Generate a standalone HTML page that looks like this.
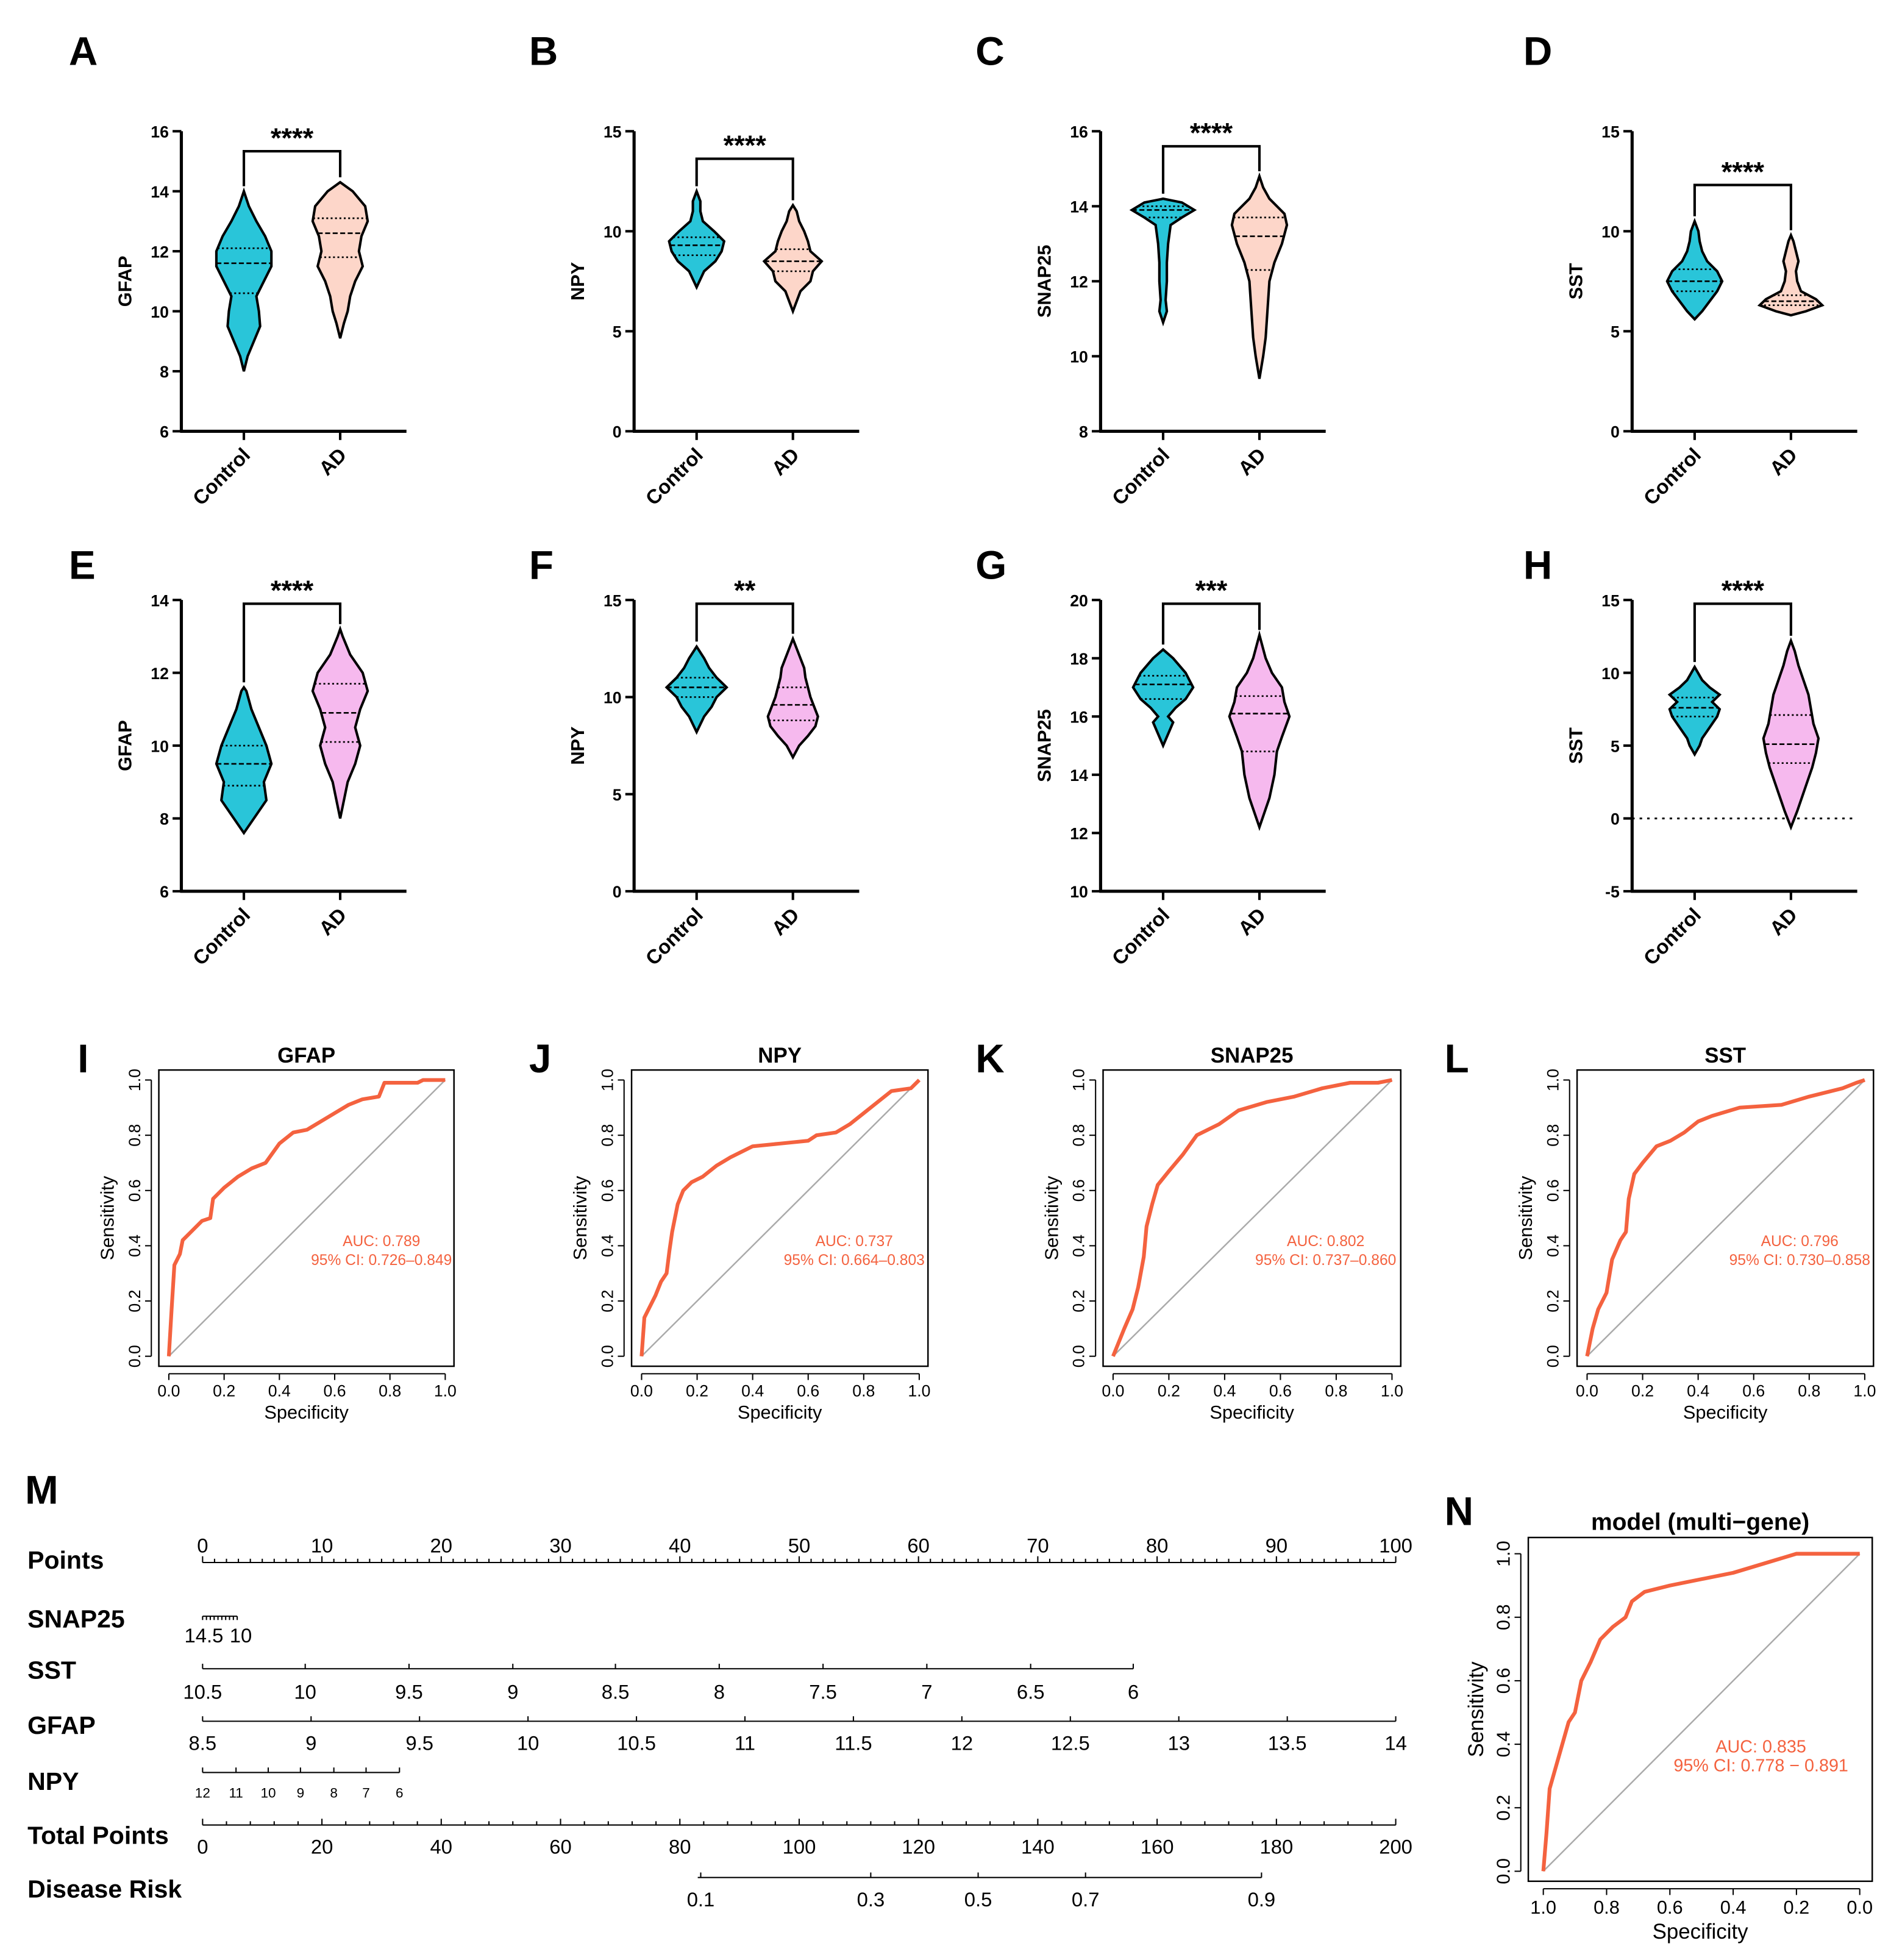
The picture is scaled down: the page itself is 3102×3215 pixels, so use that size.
<!DOCTYPE html>
<html><head><meta charset="utf-8"><style>
html,body{margin:0;padding:0;background:#fff}
svg{display:block;font-family:"Liberation Sans",Arial,sans-serif}
</style></head><body>
<svg id="fig" width="3102" height="3215" viewBox="0 0 1512 1568" preserveAspectRatio="none" xmlns="http://www.w3.org/2000/svg"></svg>
<script>
// ---------- Violin data (value, halfwidth profile) ----------
const violinPanels = ['A','B','C','D','E','F','G','H'];
const violinGenes = ['GFAP','NPY','SNAP25','SST','GFAP','NPY','SNAP25','SST'];
const violinYMin = [6,0,8,0,6,0,10,-5];
const violinYMax = [16,15,16,15,14,15,20,15];
const violinYStep = [2,5,2,5,2,5,2,5];
const violinStars = ['****','****','****','****','****','**','***','****'];
const ctrlProfiles = [
 [[8,0],[8.5,3],[9,8],[9.5,13],[10,12],[10.5,10],[11,16],[11.5,22],[12,22],[12.5,17],[13,10],[13.5,4],[14,0]],
 [[7.2,0],[8,6],[8.5,15],[9,20],[9.5,22],[10,14],[10.5,5],[11,3],[11.5,3],[12,0]],
 [[10.9,0],[11.2,3],[11.5,2],[12,3],[12.5,3],[13,4],[13.5,6],[13.7,15],[13.9,25],[14.1,15],[14.2,0]],
 [[5.6,0],[6,6],[6.5,12],[7,18],[7.5,22],[8,18],[8.5,10],[9,6],[9.5,4],[10,3],[10.5,0]],
 [[7.6,0],[8,8],[8.5,18],[9,16],[9.5,22],[10,18],[10.5,12],[11,6],[11.5,2],[11.6,0]],
 [[8.2,0],[9,6],[9.5,12],[10,16],[10.5,24],[11,16],[11.5,10],[12,6],[12.6,0]],
 [[15,0],[15.5,5],[15.8,8],[16,4],[16.3,10],[16.6,18],[17,24],[17.5,18],[18,8],[18.3,0]],
 [[4.4,0],[5,4],[5.5,6],[6,10],[7,18],[7.5,20],[8,14],[8.5,20],[9,12],[9.5,6],[10.4,0]]
];
const adProfiles = [
 [[9.1,0],[9.6,3],[10,6],[10.5,8],[11,12],[11.5,18],[12,15],[12.5,17],[13,22],[13.5,20],[14,10],[14.3,0]],
 [[6,0],[7,6],[7.5,14],[8,16],[8.5,23],[9,14],[9.5,12],[10,9],[10.5,5],[11,3],[11.3,0]],
 [[9.4,0],[10,3],[10.5,5],[11,6],[11.5,7],[12,8],[12.5,12],[13,18],[13.5,22],[13.8,20],[14.2,8],[14.5,3],[14.8,0]],
 [[5.8,0],[6,12],[6.3,25],[6.6,20],[7,8],[7.5,5],[8,4],[8.5,6],[9,4],[9.5,2],[9.8,0]],
 [[8,0],[8.5,3],[9,6],[9.5,12],[10,16],[10.5,12],[11,16],[11.5,22],[12,18],[12.5,8],[13,2],[13.2,0]],
 [[6.9,0],[7.5,5],[8,12],[8.5,18],[9,20],[9.5,17],[10,14],[10.5,12],[11,10],[11.5,9],[12,6],[12.5,3],[13,0]],
 [[12.2,0],[12.7,4],[13.2,8],[14,12],[14.8,14],[15.3,18],[16,24],[16.5,20],[17,18],[17.5,10],[18,5],[18.8,0]],
 [[-0.6,0],[0.5,5],[1.5,9],[2.5,13],[3.5,17],[4.5,20],[5.5,22],[6.5,18],[7.5,16],[8.5,14],[9.5,10],[10.5,6],[11.5,3],[12.2,0]]
];
const ctrlQuart = [[10.6,11.6,12.1],[8.8,9.3,9.7],[13.7,13.9,14.0],[7.0,7.5,8.1],[8.9,9.5,10.0],[10,10.5,11],[16.6,17.1,17.4],[7,7.6,8.3]];
const adQuart = [[11.8,12.6,13.1],[8.0,8.5,9.1],[12.3,13.2,13.7],[6.3,6.5,6.8],[10.1,10.9,11.7],[8.8,9.6,10.5],[14.8,16.1,16.7],[3.8,5.1,7.1]];

// ---------- ROC data ----------
const rocGenes = ['GFAP','NPY','SNAP25','SST'];
const rocLetters = ['I','J','K','L'];
const rocAUC = ['AUC: 0.789','AUC: 0.737','AUC: 0.802','AUC: 0.796'];
const rocCI = ['95% CI: 0.726\u20130.849','95% CI: 0.664\u20130.803','95% CI: 0.737\u20130.860','95% CI: 0.730\u20130.858'];
const rocFPR = [
 [0,0.01,0.02,0.04,0.05,0.08,0.12,0.15,0.16,0.2,0.25,0.3,0.35,0.4,0.45,0.5,0.55,0.6,0.65,0.7,0.76,0.78,0.9,0.92,1],
 [0,0.01,0.03,0.05,0.07,0.09,0.1,0.11,0.13,0.15,0.18,0.22,0.27,0.32,0.4,0.5,0.6,0.63,0.7,0.75,0.8,0.85,0.9,0.97,1],
 [0,0.02,0.04,0.07,0.09,0.11,0.12,0.14,0.16,0.2,0.25,0.3,0.38,0.45,0.55,0.65,0.75,0.85,0.95,1],
 [0,0.02,0.04,0.07,0.09,0.12,0.14,0.15,0.17,0.2,0.25,0.3,0.35,0.4,0.45,0.55,0.7,0.8,0.92,0.97,1]
];
const rocTPR = [
 [0,0.17,0.33,0.37,0.42,0.45,0.49,0.5,0.57,0.61,0.65,0.68,0.7,0.77,0.81,0.82,0.85,0.88,0.91,0.93,0.94,0.99,0.99,1,1],
 [0,0.14,0.18,0.22,0.27,0.3,0.38,0.45,0.55,0.6,0.63,0.65,0.69,0.72,0.76,0.77,0.78,0.8,0.81,0.84,0.88,0.92,0.96,0.97,1],
 [0,0.05,0.1,0.17,0.25,0.36,0.47,0.55,0.62,0.67,0.73,0.8,0.84,0.89,0.92,0.94,0.97,0.99,0.99,1],
 [0,0.1,0.17,0.23,0.35,0.42,0.45,0.57,0.66,0.7,0.76,0.78,0.81,0.85,0.87,0.9,0.91,0.94,0.97,0.99,1]
];
const modelSpec = [1,0.99,0.98,0.96,0.94,0.92,0.9,0.88,0.85,0.82,0.78,0.74,0.72,0.68,0.6,0.5,0.4,0.3,0.2,0];
const modelSens = [0,0.12,0.26,0.33,0.4,0.47,0.5,0.6,0.66,0.73,0.77,0.8,0.85,0.88,0.9,0.92,0.94,0.97,1,1];
const rocTicks = ['0.0','0.2','0.4','0.6','0.8','1.0'];

// ---------- Nomogram data ----------
const pointsLabels = [0,10,20,30,40,50,60,70,80,90,100];
const sstLabels = ['10.5','10','9.5','9','8.5','8','7.5','7','6.5','6'];
const sstPoints = [0,8.6,17.3,26,34.6,43.3,52,60.7,69.4,78];
const gfapLabels = ['8.5','9','9.5','10','10.5','11','11.5','12','12.5','13','13.5','14'];
const npyLabels = ['12','11','10','9','8','7','6'];
const npyPoints = [0,2.8,5.5,8.2,11,13.7,16.5];
const totalLabels = [0,20,40,60,80,100,120,140,160,180,200];
const riskLabels = ['0.1','0.3','0.5','0.7','0.9'];
const riskTotal = [83.5,112,130,148,177.5];

const NS='http://www.w3.org/2000/svg';
const svg=document.getElementById('fig');
function el(tag,attrs,parent,text){const e=document.createElementNS(NS,tag);for(const k in attrs)e.setAttribute(k,attrs[k]);if(text!==undefined)e.textContent=text;(parent||svg).appendChild(e);return e;}

// ---------- Violins ----------
const vAxisX=[145,507,880,1305,145,507,880,1305];
const vTop=[105,105,105,105,480,480,480,480];
const vBot=[345,345,345,345,713,713,713,713];
function widthAt(prof,v){for(let i=0;i<prof.length-1;i++){if(v>=prof[i][0]&&v<=prof[i+1][0]){const t=(v-prof[i][0])/(prof[i+1][0]-prof[i][0]);return prof[i][1]+t*(prof[i+1][1]-prof[i][1]);}}return 0;}
for(let p=0;p<8;p++){
  const g=el('g',{});
  
  
  const ax=vAxisX[p],top=vTop[p],bot=vBot[p],mn=violinYMin[p],mx=violinYMax[p];
  const y=v=>bot-(v-mn)/(mx-mn)*(bot-top);
  const cx=[ax+50,ax+127];
  const L=el('text',{x:p<4?(p==0?55:p==1?423:p==2?780:1218):(p==4?55:p==5?423:p==6?780:1218),y:p<4?52:463,'font-size':32,'font-weight':'bold'},g,violinPanels[p]);
  
  
  if(mn<0){el('line',{x1:ax,x2:ax+180,y1:y(0),y2:y(0),stroke:'#000','stroke-width':1.5,'stroke-dasharray':'2,4'},g);}
  [[ctrlProfiles[p],ctrlQuart[p],'#29c5d9'],[adProfiles[p],adQuart[p],p<4?'#fdd6c9':'#f6b9ee']].forEach((d,k)=>{
    const prof=d[0],c=cx[k];
    let pts=prof.map(q=>(c+q[1])+','+y(q[0]));
    pts=pts.concat(prof.slice().reverse().map(q=>(c-q[1])+','+y(q[0])));
    const pg=el('polygon',{points:pts.join(' '),fill:d[2],stroke:'#000','stroke-width':2},g);
    
    
    d[1].forEach((qv,i)=>{const w=widthAt(prof,qv);el('line',{x1:c-w,x2:c+w,y1:y(qv),y2:y(qv),stroke:'#000','stroke-width':1.3,'stroke-dasharray':i==1?'4,2':'1.5,2'},g);});
  });
  el('line',{x1:ax,x2:ax,y1:top,y2:bot,stroke:'#000','stroke-width':2.5},g);
  el('line',{x1:ax-1,x2:ax+180,y1:bot,y2:bot,stroke:'#000','stroke-width':2.5},g);
  for(let v=mn;v<=mx+1e-9;v+=violinYStep[p]){
    el('line',{x1:ax-7,x2:ax,y1:y(v),y2:y(v),stroke:'#000','stroke-width':2},g);
    el('text',{x:ax-10,y:y(v)+5,'font-size':13,'font-weight':'bold','text-anchor':'end'},g,String(v));
  }
  cx.forEach((c,k)=>{
    el('line',{x1:c,x2:c,y1:bot,y2:bot+7,stroke:'#000','stroke-width':2},g);
    const t=el('text',{x:c+6,y:bot+20,'font-size':16,'font-weight':'bold','text-anchor':'end',transform:`rotate(-45 ${c+6} ${bot+20})`},g,k==0?'Control':'AD');
    
    
  });
  const yt=el('text',{x:ax-40,y:(top+bot)/2,'font-size':15,'font-weight':'bold','text-anchor':'middle',transform:`rotate(-90 ${ax-40} ${(top+bot)/2})`},g,violinGenes[p]);
  
  
  const byy=[121,127,117,148,483,483,483,483][p];
  el('polyline',{points:`${cx[0]},${y(ctrlProfiles[p][ctrlProfiles[p].length-1][0])-4} ${cx[0]},${byy} ${cx[1]},${byy} ${cx[1]},${y(adProfiles[p][adProfiles[p].length-1][0])-4}`,fill:'none',stroke:'#000','stroke-width':2},g);
  const st=el('text',{x:(cx[0]+cx[1])/2,y:byy-3,'font-size':22,'font-weight':'bold','text-anchor':'middle'},g,violinStars[p]);
  
  
}

// ---------- ROC ----------
function roc(box,xMap,fprArr,tprArr,opts){
  const g=el('g',{});
  
  
  el('rect',{x:box[0],y:box[1],width:box[2]-box[0],height:box[3]-box[1],fill:'none',stroke:'#000','stroke-width':1.2},g);
  const X=v=>xMap[0]+v*(xMap[1]-xMap[0]);
  const Y=v=>opts.y0+v*(opts.y1-opts.y0);
  el('line',{x1:X(0),y1:Y(0),x2:X(1),y2:Y(1),stroke:'#aaa','stroke-width':1.2},g);
  const pts=fprArr.map((f,i)=>X(f)+','+Y(tprArr[i])).join(' ');
  const c=el('polyline',{points:pts,fill:'none',stroke:'#f4623f','stroke-width':3,'stroke-linejoin':'round'},g);
  
  
  const ay=box[3]+6;
  el('line',{x1:X(0),x2:X(1),y1:ay,y2:ay,stroke:'#000','stroke-width':1},g);
  rocTicks.forEach((t,i)=>{const v=i/5;el('line',{x1:X(opts.xrev?1-v:v),x2:X(opts.xrev?1-v:v),y1:ay,y2:ay+5,stroke:'#000'},g);
    el('text',{x:X(opts.xrev?1-v:v),y:ay+opts.fs+5,'font-size':opts.fs,'text-anchor':'middle'},g,t);});
  const ax=box[0]-6;
  el('line',{x1:ax,x2:ax,y1:Y(0),y2:Y(1),stroke:'#000','stroke-width':1},g);
  rocTicks.forEach((t,i)=>{const v=i/5;el('line',{x1:ax-5,x2:ax,y1:Y(v),y2:Y(v),stroke:'#000'},g);
    el('text',{x:ax-9,y:Y(v),'font-size':opts.fs,'text-anchor':'middle',transform:`rotate(-90 ${ax-9} ${Y(v)})`},g,t);});
  el('text',{x:(box[0]+box[2])/2,y:ay+opts.fs*2+10,'font-size':opts.fs+2,'text-anchor':'middle'},g,'Specificity');
  el('text',{x:ax-30,y:(box[1]+box[3])/2,'font-size':opts.fs+2,'text-anchor':'middle',transform:`rotate(-90 ${ax-30} ${(box[1]+box[3])/2})`},g,'Sensitivity');
  el('text',{x:(box[0]+box[2])/2,y:box[1]-6,'font-size':opts.fs+4,'font-weight':'bold','text-anchor':'middle'},g,opts.title);
  el('text',{x:opts.aucX,y:opts.aucY,'font-size':opts.fs-1,fill:'#f4623f','text-anchor':'middle'},g,opts.auc);
  el('text',{x:opts.aucX,y:opts.aucY+15,'font-size':opts.fs-1,fill:'#f4623f','text-anchor':'middle'},g,opts.ci);
}
const rocBoxes=[[127,856,363,1093],[505,856,742,1093],[882,856,1120,1093],[1261,856,1498,1093]];
const letterX=[62,423,780,1155];
for(let i=0;i<4;i++){
  const b=rocBoxes[i];
  roc(b,[b[0]+8,b[2]-7],rocFPR[i],rocTPR[i],{name:'roc-panel-'+rocLetters[i].toLowerCase(),y0:1085,y1:864,fs:13,title:rocGenes[i],aucX:b[0]+178,aucY:997,auc:rocAUC[i],ci:rocCI[i]});
  const L=el('text',{x:letterX[i],y:858,'font-size':32,'font-weight':'bold'},svg,rocLetters[i]);
  
  
}
roc([1222,1230,1497,1505],[1234,1487],modelSpec.map(s=>1-s),modelSens,{name:'roc-panel-n',y0:1497,y1:1243,xrev:true,fs:15,title:'model (multi\u2212gene)',aucX:1408,aucY:1402,auc:'AUC: 0.835',ci:'95% CI: 0.778 \u2212 0.891'});
{const L=el('text',{x:1155,y:1220,'font-size':32,'font-weight':'bold'},svg,'N');}

// ---------- Nomogram ----------
const nx0=162,nx1=1116;
const P=v=>nx0+v/100*(nx1-nx0);
const T=v=>nx0+v/200*(nx1-nx0);
const ng=el('g',{});


{const L=el('text',{x:20,y:1203,'font-size':32,'font-weight':'bold'},svg,'M');}
const rowNames=['Points','SNAP25','SST','GFAP','NPY','Total Points','Disease Risk'];
const rowY=[1255,1302,1343,1387,1432,1475,1518];
rowNames.forEach((n,i)=>{const t=el('text',{x:22,y:rowY[i],'font-size':20,'font-weight':'bold'},ng,n);});
function hline(x1,x2,yy){el('line',{x1:x1,x2:x2,y1:yy,y2:yy,stroke:'#000','stroke-width':1},ng);}
function tick(x,yy,len){el('line',{x1:x,x2:x,y1:yy,y2:yy+len,stroke:'#000','stroke-width':1},ng);}
hline(P(0),P(100),1250);
for(let v=0;v<=100;v++)tick(P(v),1250,v%10==0?-5:-3);
pointsLabels.forEach(v=>el('text',{x:P(v),y:1242,'font-size':16,'text-anchor':'middle'},ng,String(v)));
hline(P(0),P(2.9),1293);
for(let k=0;k<=9;k++)tick(P(k*2.9/9),1293,3);
el('text',{x:P(0)+1,y:1314,'font-size':16,'text-anchor':'middle'},ng,'14.5');
el('text',{x:P(3.2),y:1314,'font-size':16,'text-anchor':'middle'},ng,'10');
hline(P(0),P(78),1335);
sstLabels.forEach((l,i)=>{tick(P(sstPoints[i]),1335,-4);el('text',{x:P(sstPoints[i]),y:1359,'font-size':16,'text-anchor':'middle'},ng,l);});
hline(P(0),P(100),1377);
gfapLabels.forEach((l,i)=>{const x=P(i*100/11);tick(x,1377,-4);el('text',{x:x,y:1400,'font-size':16,'text-anchor':'middle'},ng,l);});
hline(P(0),P(16.5),1418);
npyLabels.forEach((l,i)=>{tick(P(npyPoints[i]),1418,-4);el('text',{x:P(npyPoints[i]),y:1438,'font-size':11,'text-anchor':'middle'},ng,l);});
hline(T(0),T(200),1460);
for(let v=0;v<=200;v+=4)tick(T(v),1460,v%20==0?-5:-3);
totalLabels.forEach(v=>el('text',{x:T(v),y:1483,'font-size':16,'text-anchor':'middle'},ng,String(v)));
hline(T(83),T(177.5),1502);
riskLabels.forEach((l,i)=>{tick(T(riskTotal[i]),1502,-4);el('text',{x:T(riskTotal[i]),y:1525,'font-size':16,'text-anchor':'middle'},ng,l);});
</script>
</body></html>
